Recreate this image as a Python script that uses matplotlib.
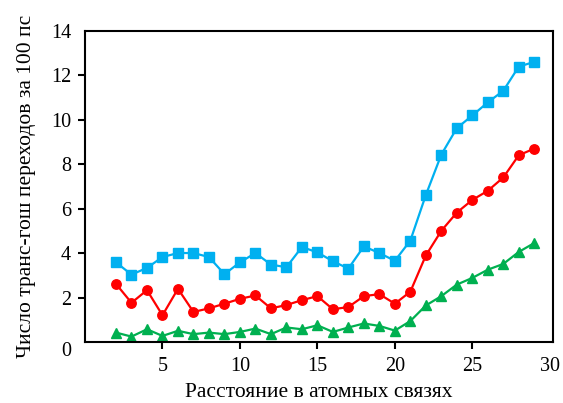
import matplotlib
matplotlib.use("Agg")
import matplotlib.pyplot as plt
import matplotlib.transforms as mtransforms

plt.rcParams['font.family'] = ['Liberation Serif', 'DejaVu Serif']

# distance in atomic bonds
distance = list(range(2, 30))

# trans-gauche transitions per 100 ps
blue_vals = [3.59, 3.04, 3.34, 3.83, 4.01, 4.01, 3.83, 3.06, 3.59, 4.01,
             3.49, 3.37, 4.28, 4.04, 3.64, 3.31, 4.31, 4.01, 3.66, 4.57,
             6.62, 8.44, 9.63, 10.20, 10.79, 11.31, 12.40, 12.61]
red_vals = [2.62, 1.77, 2.34, 1.21, 2.40, 1.36, 1.52, 1.73, 1.95, 2.10,
            1.52, 1.67, 1.89, 2.07, 1.48, 1.58, 2.07, 2.16, 1.73, 2.27,
            3.90, 5.01, 5.83, 6.40, 6.81, 7.41, 8.41, 8.71]
green_vals = [0.43, 0.25, 0.58, 0.28, 0.51, 0.36, 0.43, 0.36, 0.46, 0.61,
              0.36, 0.66, 0.58, 0.76, 0.46, 0.66, 0.84, 0.73, 0.52, 0.95,
              1.65, 2.07, 2.59, 2.89, 3.26, 3.52, 4.06, 4.46]

x_ticks = [5, 10, 15, 20, 25, 30]
y_ticks = [0, 2, 4, 6, 8, 10, 12, 14]

fig = plt.figure(figsize=(5.63, 4.03), dpi=100)
ax = fig.add_axes([0.151, 0.151, 0.831, 0.772])

ax.plot(distance, blue_vals, color='#00B0F0', marker='s', markersize=6.8, linewidth=1.6)
ax.plot(distance, red_vals, color='#FF0000', marker='o', markersize=6.8, linewidth=1.6)
ax.plot(distance, green_vals, color='#00B050', marker='^', markersize=6.8, linewidth=1.6)

ax.set_xlim(0, 30.2)
ax.set_ylim(0, 14)
ax.set_xticks(x_ticks)
ax.set_yticks(y_ticks)

for s in ax.spines.values():
    s.set_linewidth(1.5)
ax.tick_params(direction='out', length=5, width=1.5, labelsize=14.5)
ax.tick_params(axis='x', pad=6)
ax.tick_params(axis='y', pad=5)

# no tick marks where ticks sit on the frame
for t in [ax.yaxis.get_major_ticks()[0], ax.yaxis.get_major_ticks()[-1],
          ax.xaxis.get_major_ticks()[-1]]:
    t.tick1line.set_visible(False)

# the "0" label sits a little lower, like a corner label
zero_lbl = ax.yaxis.get_major_ticks()[0].label1
zero_lbl.set_transform(zero_lbl.get_transform() +
                       mtransforms.ScaledTranslation(0, -5 / 72, fig.dpi_scale_trans))

ax.set_xlabel("Расстояние в атомных связях", fontsize=15.5, labelpad=5)
ax.set_ylabel("Число транс-гош переходов за 100 пс", fontsize=15.5, labelpad=11)

fig.savefig("out.png", dpi=100)
